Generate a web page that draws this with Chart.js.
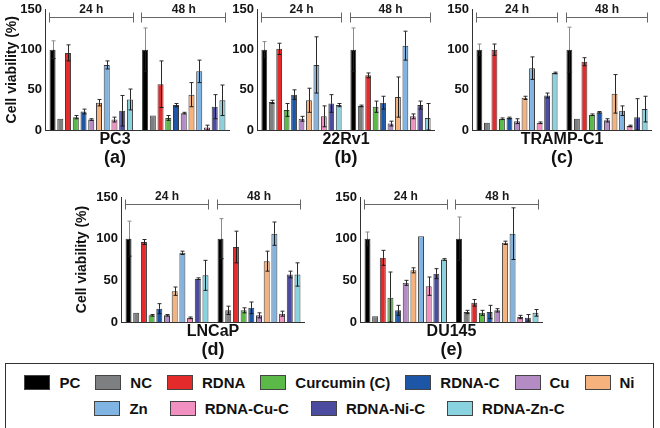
<!DOCTYPE html>
<html>
<head>
<meta charset="utf-8">
<script src="https://cdn.jsdelivr.net/npm/chart.js@4/dist/chart.umd.min.js"></script>
<style>
  body { margin: 0; background: #fff; width: 660px; height: 428px; overflow: hidden; position: relative;
         font-family: "Liberation Sans", Arial, sans-serif; }
  canvas { position: absolute; }
  #legend { position: absolute; left: 5px; top: 363px; width: 647px; height: 59px;
            border: 1.5px solid #333; padding-top: 5px; box-sizing: content-box; }
  .row { display: flex; justify-content: center; align-items: center; height: 26px; }
  .item { display: flex; align-items: center; font-weight: bold; font-size: 15px; color: #111; }
  .sw { width: 26px; height: 15px; border: 1px solid #444; margin-right: 9px; box-sizing: border-box; }
</style>
</head>
<body>
<div id="legend"></div>
<script>
const treatments = ['PC', 'NC', 'RDNA', 'Curcumin (C)', 'RDNA-C', 'Cu', 'Ni', 'Zn', 'RDNA-Cu-C', 'RDNA-Ni-C', 'RDNA-Zn-C'];
const colors = ['#000000', '#7d7f81', '#e52a2b', '#5ab947', '#1d56a6', '#b48bc4', '#f5b27c', '#80b4e3', '#f290c2', '#4b4ca0', '#88d3df'];
const times = ['24 h', '48 h'];
const yTicks = [0, 50, 100, 150];

// PC3
const pc3_24 = [100, 14, 96, 16, 23, 13, 34, 81, 13, 24, 38];
const pc3_24err = [11, 0, 10, 2, 3, 1, 4, 5, 3, 19, 13];
const pc3_48 = [100, 18, 57, 15, 31, 21, 44, 73, 3, 29, 37];
const pc3_48err = [27, 0, 29, 3, 2, 1, 15, 14, 3, 15, 19];

// 22Rv1
const rv1_24 = [100, 35, 101, 25, 44, 14, 37, 81, 17, 33, 31];
const rv1_24err = [10, 2, 7, 8, 6, 3, 15, 35, 13, 11, 2];
const rv1_48 = [100, 30, 68, 29, 34, 8, 41, 105, 17, 31, 15];
const rv1_48err = [27, 1, 3, 7, 8, 3, 25, 18, 3, 5, 18];

// TRAMP-C1
const tramp_24 = [100, 9, 100, 14, 15, 11, 40, 77, 9, 43, 71];
const tramp_24err = [7, 0, 7, 1, 1, 3, 2, 14, 1, 3, 1];
const tramp_48 = [100, 14, 85, 19, 22, 12, 45, 24, 5, 16, 26];
const tramp_48err = [28, 0, 5, 1, 1, 2, 24, 6, 1, 23, 16];

// LNCaP
const lncap_24 = [100, 11, 96, 8, 16, 8, 37, 83, 5, 52, 56];
const lncap_24err = [21, 0, 3, 1, 6, 1, 5, 2, 1, 1, 18];
const lncap_48 = [100, 14, 90, 14, 17, 8, 73, 106, 10, 57, 57];
const lncap_48err = [24, 5, 19, 3, 7, 3, 12, 14, 3, 4, 14];

// DU145
const du_24 = [100, 7, 77, 29, 14, 47, 62, 103, 43, 58, 75];
const du_24err = [8, 0, 9, 31, 6, 3, 3, 0, 11, 6, 1];
const du_48 = [100, 12, 23, 11, 12, 14, 95, 106, 6, 5, 11];
const du_48err = [26, 2, 4, 3, 8, 2, 2, 31, 2, 4, 4];

const panels = [
  { name: 'PC3', tag: '(a)', m: [pc3_24, pc3_48], e: [pc3_24err, pc3_48err], yTitle: true, full: true,
    left: 0, top: 0, w: 230, h: 170, yw: 45, padT: 7 },
  { name: '22Rv1', tag: '(b)', m: [rv1_24, rv1_48], e: [rv1_24err, rv1_48err], yTitle: false, full: false,
    left: 230, top: 0, w: 205, h: 170, yw: 27, padT: 7 },
  { name: 'TRAMP-C1', tag: '(c)', m: [tramp_24, tramp_48], e: [tramp_24err, tramp_48err], yTitle: false, full: false,
    left: 447, top: 0, w: 205, h: 170, yw: 25, padT: 7 },
  { name: 'LNCaP', tag: '(d)', m: [lncap_24, lncap_48], e: [lncap_24err, lncap_48err], yTitle: true, full: false,
    left: 70, top: 185, w: 235, h: 177, yw: 51, padT: 12 },
  { name: 'DU145', tag: '(e)', m: [du_24, du_48], e: [du_24err, du_48err], yTitle: false, full: false,
    left: 330, top: 185, w: 213, h: 177, yw: 30, padT: 12 }
];

Chart.defaults.font.family = '"Liberation Sans", Arial, sans-serif';
Chart.defaults.color = '#111';

// mean +/- error whiskers; the part above the bar is grey on the black PC bars
const errorBars = {
  id: 'errorBars',
  afterDatasetsDraw(chart) {
    const ctx = chart.ctx, y = chart.scales.y;
    chart.data.datasets.forEach((ds, i) => {
      chart.getDatasetMeta(i).data.forEach((bar, j) => {
        const v = ds.data[j], e = ds.errors[j];
        if (!e) return;
        const x = Math.round(bar.x) + 0.5;
        const t = y.getPixelForValue(v + e), m = y.getPixelForValue(v), b = y.getPixelForValue(Math.max(v - e, 0));
        ctx.save();
        ctx.lineWidth = 1;
        ctx.strokeStyle = i === 0 ? '#8a8a8a' : '#2a2a2a';
        ctx.beginPath();
        ctx.moveTo(x, t); ctx.lineTo(x, m);
        ctx.moveTo(x - 2, t); ctx.lineTo(x + 2, t);
        ctx.stroke();
        ctx.strokeStyle = '#1a1a1a';
        ctx.beginPath();
        ctx.moveTo(x, m); ctx.lineTo(x, b);
        ctx.moveTo(x - 2, b); ctx.lineTo(x + 2, b);
        ctx.stroke();
        ctx.restore();
      });
    });
  }
};

// "24 h" / "48 h" brackets over each group
const brackets = {
  id: 'brackets',
  afterDraw(chart) {
    const ctx = chart.ctx, x = chart.scales.x;
    const n = chart.data.labels.length;
    const half = (x.right - x.left) / n * chart.options.datasets.bar.categoryPercentage / 2;
    const yy = Math.round(chart.chartArea.top + 7) + 0.5;
    ctx.save();
    ctx.strokeStyle = '#666';
    ctx.lineWidth = 1;
    ctx.fillStyle = '#1a1a1a';
    ctx.font = 'bold 12px "Liberation Sans", Arial, sans-serif';
    ctx.textAlign = 'center';
    ctx.textBaseline = 'bottom';
    chart.data.labels.forEach((lab, i) => {
      const cx = x.getPixelForValue(i);
      const x0 = Math.round(cx - half) + 0.5, x1 = Math.round(cx + half) - 0.5;
      ctx.beginPath();
      ctx.moveTo(x0, yy); ctx.lineTo(x1, yy);
      ctx.moveTo(x0, yy - 5); ctx.lineTo(x0, yy + 5);
      ctx.moveTo(x1, yy - 5); ctx.lineTo(x1, yy + 5);
      ctx.stroke();
      ctx.fillText(lab, cx, yy - 1.5);
    });
    ctx.restore();
  }
};

panels.forEach(p => {
  const cv = document.createElement('canvas');
  cv.width = p.w; cv.height = p.h;
  cv.style.left = p.left + 'px'; cv.style.top = p.top + 'px';
  document.body.appendChild(cv);

  const datasets = treatments.map((t, i) => ({
    label: t,
    data: [p.m[0][i], p.m[1][i]],
    errors: [p.e[0][i], p.e[1][i]],
    backgroundColor: colors[i]
  }));

  new Chart(cv, {
    type: 'bar',
    data: { labels: times, datasets },
    options: {
      responsive: false,
      animation: false,
      layout: { padding: { top: p.padT, left: 0, right: 0, bottom: 0 } },
      datasets: { bar: { categoryPercentage: 0.92, barPercentage: 0.78, borderWidth: 1, borderColor: '#3a3a3a' } },
      plugins: {
        legend: { display: false },
        tooltip: { enabled: false },
        subtitle: { display: true, position: 'bottom', text: p.name, fullSize: p.full, color: '#111',
                    font: { size: 16, weight: 'bold', lineHeight: 1 }, padding: { top: 2, bottom: 0 } },
        title: { display: true, position: 'bottom', text: p.tag, fullSize: p.full, color: '#111',
                 font: { size: 18, weight: 'bold', lineHeight: 1 }, padding: { top: 1, bottom: 3 } }
      },
      scales: {
        x: {
          grid: { display: false },
          ticks: { display: false },
          border: { color: '#333', width: 1 },
          afterFit: s => { s.height = 0; }
        },
        y: {
          min: 0, max: 150,
          afterBuildTicks: s => { s.ticks = yTicks.map(v => ({ value: v })); },
          grid: { display: false, drawTicks: false },
          border: { color: '#333', width: 1 },
          ticks: { color: '#111', padding: 3, font: { size: 13, weight: 'bold', lineHeight: 1 } },
          title: { display: p.yTitle, text: 'Cell viability (%)', color: '#111',
                   font: { size: 14, weight: 'bold' }, padding: { top: 4, bottom: 0 } },
          afterFit: s => { s.width = p.yw; }
        }
      }
    },
    plugins: [errorBars, brackets]
  });
});

// legend built from the same names and colours
const legend = document.getElementById('legend');
[[treatments.slice(0, 7), 15], [treatments.slice(7), 22]].forEach(([names, gap]) => {
  const row = document.createElement('div');
  row.className = 'row';
  row.style.gap = gap + 'px';
  names.forEach(n => {
    const it = document.createElement('div');
    it.className = 'item';
    const sw = document.createElement('span');
    sw.className = 'sw';
    sw.style.background = colors[treatments.indexOf(n)];
    it.appendChild(sw);
    it.appendChild(document.createTextNode(n));
    row.appendChild(it);
  });
  legend.appendChild(row);
});
</script>
</body>
</html>
